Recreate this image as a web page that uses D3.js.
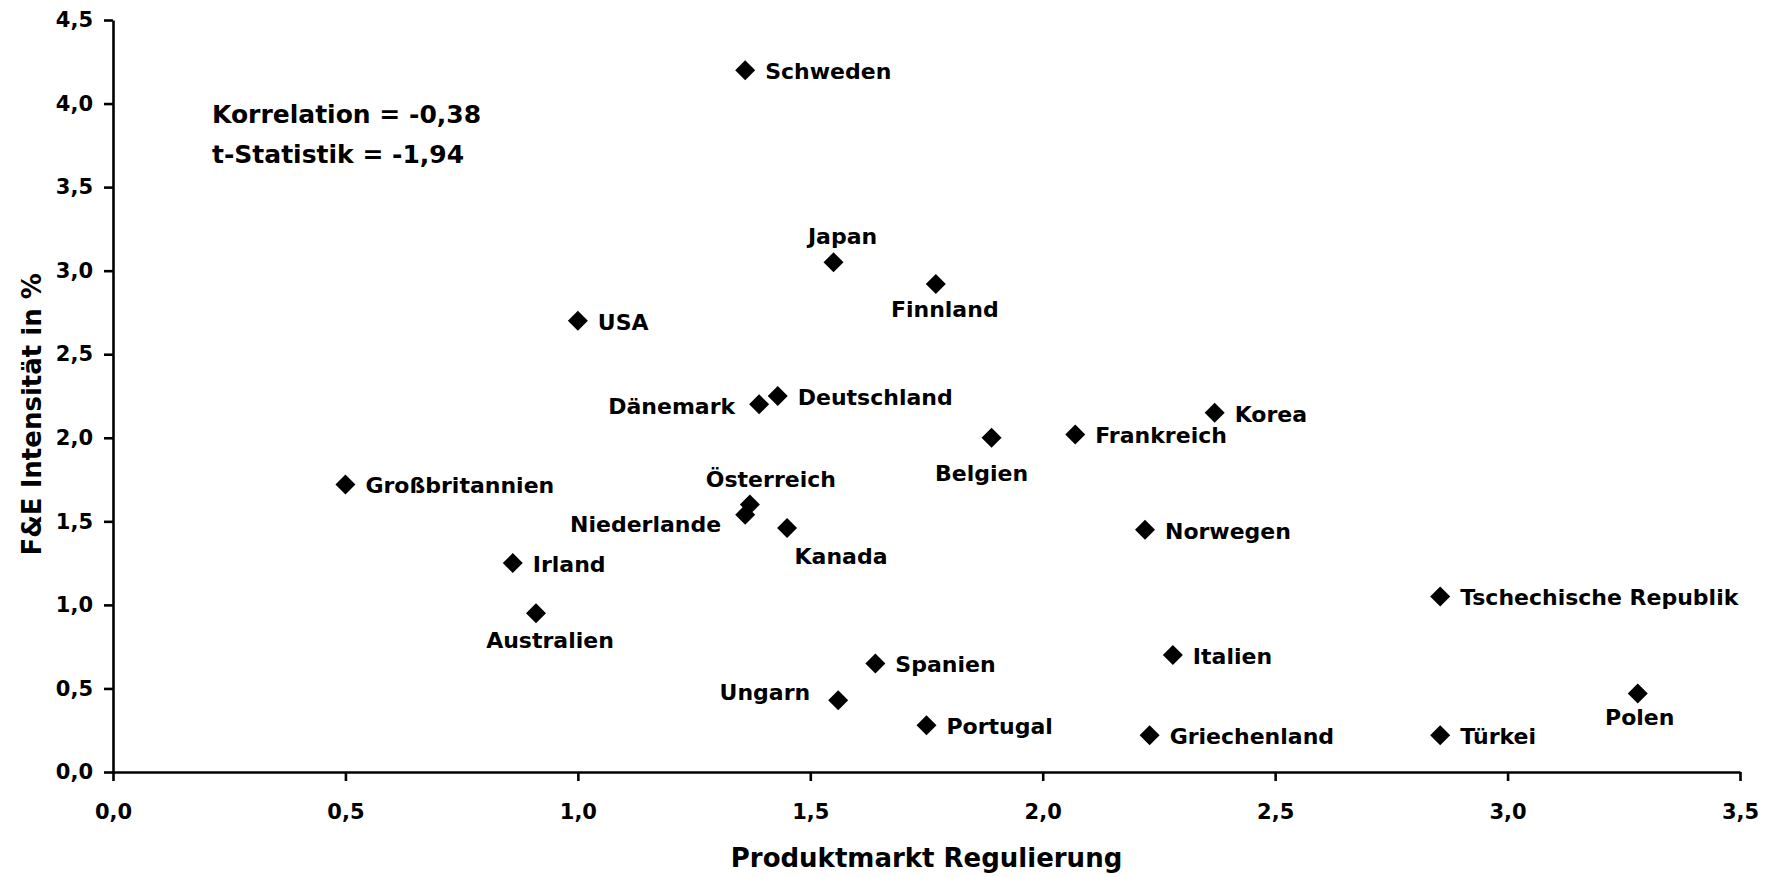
<!DOCTYPE html>
<html>
<head>
<meta charset="utf-8">
<script src="https://cdn.jsdelivr.net/npm/d3@7/dist/d3.min.js"></script>
<style>
  body { margin: 0; background: #fff; }
  text { font-family: "DejaVu Sans", sans-serif; font-weight: bold; fill: #000; }
</style>
</head>
<body>
<div id="graph"></div>
<script>
// Laender, Produktmarkt Regulierung (x) und F&E Intensitaet (y)
const laender = ["Schweden", "Japan", "Finnland", "USA", "Dänemark", "Deutschland",
  "Korea", "Frankreich", "Belgien", "Großbritannien", "Österreich", "Niederlande",
  "Kanada", "Norwegen", "Irland", "Tschechische Republik", "Australien", "Italien",
  "Spanien", "Ungarn", "Polen", "Portugal", "Griechenland", "Türkei"];
const regulierung = [1.36, 1.55, 1.77, 1.00, 1.39, 1.43,
  2.37, 2.07, 1.89, 0.50, 1.37, 1.36,
  1.45, 2.22, 0.86, 2.855, 0.91, 2.28,
  1.64, 1.56, 3.28, 1.75, 2.23, 2.855];
const fue = [4.20, 3.05, 2.92, 2.70, 2.20, 2.25,
  2.15, 2.02, 2.00, 1.72, 1.60, 1.54,
  1.46, 1.45, 1.25, 1.05, 0.95, 0.70,
  0.65, 0.43, 0.47, 0.28, 0.22, 0.22];
const xTicks = [0, 0.5, 1, 1.5, 2, 2.5, 3, 3.5];
const yTicks = [0, 0.5, 1, 1.5, 2, 2.5, 3, 3.5, 4, 4.5];

// wo das Label sitzt: r = rechts, l = links, t = oben, b = unten
const labelLage = {
  "Japan": ["t", 9, -26], "Finnland": ["b", 9, 25], "Belgien": ["b", -10, 35],
  "Österreich": ["t", 21, -26], "Kanada": ["b", 54, 28], "Australien": ["b", 14, 27],
  "Polen": ["b", 2, 24], "Dänemark": ["l", -24, 2], "Niederlande": ["l", -24, 9],
  "Ungarn": ["l", -28, -8]
};

const W = 1772, H = 877;
const margin = { top: 20, right: 32, bottom: 105, left: 113 };
const width = W - margin.left - margin.right;
const height = H - margin.top - margin.bottom;

const de = d3.formatLocale({ decimal: ",", thousands: ".", grouping: [3], currency: ["", " €"] });
const fmt = de.format(".1f");

const svg = d3.select("#graph").append("svg")
  .attr("width", W).attr("height", H);
const g = svg.append("g").attr("transform", `translate(${margin.left},${margin.top})`);

const x = d3.scaleLinear().domain([0, 3.5]).range([0, width]);
const y = d3.scaleLinear().domain([0, 4.5]).range([height, 0]);

const xAxis = g.append("g")
  .attr("transform", `translate(0,${height})`)
  .call(d3.axisBottom(x).tickValues(xTicks).tickFormat(fmt).tickSize(9).tickSizeOuter(0));
xAxis.selectAll("text").attr("y", 32).attr("font-size", 21).attr("font-family", null);

const yAxis = g.append("g")
  .call(d3.axisLeft(y).tickValues(yTicks).tickFormat(fmt).tickSize(9).tickSizeOuter(0));
yAxis.selectAll("text").attr("x", -20).attr("font-size", 21).attr("font-family", null);

g.selectAll(".domain, .tick line").attr("stroke", "#000").attr("stroke-width", 2.6);

// Achsentitel
svg.append("text")
  .attr("x", margin.left + x(1.75)).attr("y", 867)
  .attr("text-anchor", "middle").attr("font-size", 26)
  .text("Produktmarkt Regulierung");
svg.append("text")
  .attr("transform", `translate(41,${margin.top + y(2.14)}) rotate(-90)`)
  .attr("text-anchor", "middle").attr("font-size", 26)
  .text("F&E Intensität in %");

// Statistik
svg.append("text").attr("x", 212).attr("y", 123).attr("font-size", 25).text("Korrelation = -0,38");
svg.append("text").attr("x", 212).attr("y", 163).attr("font-size", 25).text("t-Statistik = -1,94");

const punkte = laender.map((n, i) => ({ name: n, rx: regulierung[i], fy: fue[i] }));

const diamond = d3.symbol().type(d3.symbolSquare).size(200);
g.selectAll("path.pt").data(punkte).enter().append("path")
  .attr("class", "pt")
  .attr("d", diamond)
  .attr("transform", d => `translate(${x(d.rx)},${y(d.fy)}) rotate(45)`)
  .attr("fill", "#000");

g.selectAll("text.lbl").data(punkte).enter().append("text")
  .attr("class", "lbl")
  .attr("font-size", 22)
  .attr("dy", "0.36em")
  .attr("text-anchor", d => {
    const l = labelLage[d.name];
    if (!l) return "start";
    return l[0] === "l" ? "end" : "middle";
  })
  .attr("x", d => x(d.rx) + (labelLage[d.name] ? labelLage[d.name][1] : 20))
  .attr("y", d => y(d.fy) + (labelLage[d.name] ? labelLage[d.name][2] : 1))
  .text(d => d.name);
</script>
</body>
</html>
